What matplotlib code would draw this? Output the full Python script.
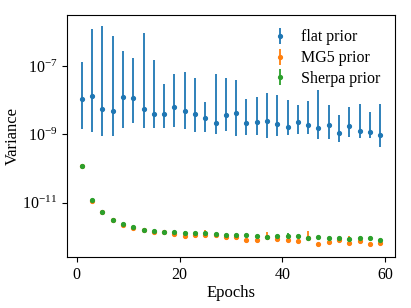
import matplotlib
matplotlib.use('Agg')
import matplotlib.pyplot as plt
import numpy as np

plt.rcParams['font.family'] = ['Liberation Serif', 'DejaVu Serif']
plt.rcParams['mathtext.fontset'] = 'stix'
plt.rcParams['font.size'] = 12

epochs = np.arange(1, 60, 2)

# log10 of variance
flat_log = [-7.97, -7.88, -8.25, -8.31, -7.90, -7.94, -8.27, -8.39, -8.39, -8.20,
            -8.32, -8.41, -8.52, -8.68, -8.44, -8.36, -8.66, -8.64, -8.60, -8.69,
            -8.77, -8.64, -8.73, -8.80, -8.73, -8.96, -8.75, -8.90, -8.93, -9.01]
flat_hi_log = [-6.88, -5.93, -5.83, -6.12, -6.55, -6.77, -6.02, -6.83, -7.53, -7.23,
               -7.18, -7.35, -8.04, -7.23, -7.36, -7.41, -7.96, -7.91, -7.79, -7.84,
               -7.98, -8.15, -8.01, -7.70, -8.15, -8.43, -8.20, -8.12, -8.34, -8.11]
flat_lo_log = [-8.85, -8.92, -9.04, -9.06, -8.80, -8.66, -8.82, -8.81, -8.82, -8.79,
               -8.83, -8.94, -8.93, -8.99, -8.89, -9.06, -9.01, -9.03, -9.10, -9.05,
               -9.03, -9.00, -9.00, -9.13, -9.14, -9.21, -9.08, -9.11, -9.11, -9.36]

mg5_log = [-9.91, -10.94, -11.27, -11.51, -11.66, -11.75, -11.80, -11.84, -11.86, -11.91,
           -11.96, -11.95, -11.94, -11.93, -11.99, -12.01, -12.09, -12.08, -12.00, -12.07,
           -12.08, -12.13, -12.04, -12.20, -12.15, -12.08, -12.17, -12.12, -12.19, -12.16]
mg5_hi_log = [-9.88, -10.91, -11.24, -11.48, -11.62, -11.71, -11.77, -11.81, -11.83, -11.88,
              -11.92, -11.92, -11.80, -11.90, -11.96, -11.98, -12.06, -12.05, -11.86, -12.04,
              -12.05, -12.10, -11.83, -12.17, -12.12, -12.05, -11.96, -11.99, -12.16, -12.13]

sherpa_log = [-9.91, -10.93, -11.26, -11.49, -11.63, -11.72, -11.79, -11.83, -11.84, -11.86,
              -11.87, -11.88, -11.89, -11.90, -11.95, -11.95, -11.94, -11.96, -12.00, -11.96,
              -11.97, -11.96, -12.04, -12.00, -12.04, -12.02, -12.06, -12.03, -12.04, -12.08]
sherpa_hi_log = [-9.88, -10.90, -11.23, -11.46, -11.58, -11.68, -11.76, -11.80, -11.81, -11.83,
                 -11.83, -11.84, -11.86, -11.87, -11.92, -11.92, -11.91, -11.93, -11.97, -11.93,
                 -11.88, -11.93, -12.01, -11.97, -12.01, -11.99, -12.03, -12.00, -12.01, -12.05]


def errs(center_log, hi_log, lo_log=None):
    c = 10 ** np.array(center_log)
    hi = 10 ** np.array(hi_log)
    if lo_log is None:
        lo = c * 0.92
    else:
        lo = 10 ** np.array(lo_log)
    return c, [c - lo, hi - c]


fig, ax = plt.subplots(figsize=(4.11, 3.08), dpi=100)

c, e = errs(flat_log, flat_hi_log, flat_lo_log)
ax.errorbar(epochs, c, yerr=e, fmt='.', color='tab:blue', label='flat prior',
            elinewidth=1.3, markersize=5.5)
c, e = errs(mg5_log, mg5_hi_log)
ax.errorbar(epochs, c, yerr=e, fmt='.', color='tab:orange', label='MG5 prior',
            elinewidth=1.3, markersize=5.5)
c, e = errs(sherpa_log, sherpa_hi_log)
ax.errorbar(epochs, c, yerr=e, fmt='.', color='tab:green', label='Sherpa prior',
            elinewidth=1.3, markersize=5.5)

ax.set_yscale('log')
ax.set_ylim(10 ** -12.58, 10 ** -5.51)
ax.set_yticks([1e-11, 1e-9, 1e-7])
ax.minorticks_off()
ax.set_xticks([0, 20, 40, 60])
ax.tick_params(labelsize=11.5)
ax.set_xlabel('Epochs', labelpad=2)
ax.set_ylabel('Variance', labelpad=1)
ax.legend(frameon=False, loc='upper right', handlelength=1.0, fontsize=11.5,
          labelspacing=0.3)

fig.subplots_adjust(left=0.163, right=0.961, top=0.951, bottom=0.166)
fig.savefig('out.png', dpi=100)
